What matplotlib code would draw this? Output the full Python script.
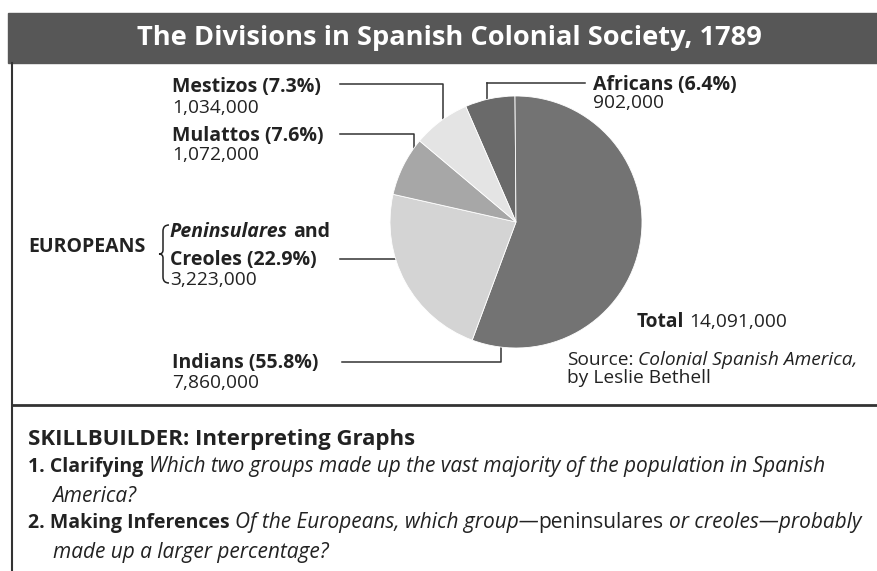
import numpy as np
import matplotlib.pyplot as plt
from matplotlib.path import Path
from matplotlib.patches import PathPatch, Rectangle

# data
groups = ['Africans', 'Indians', 'Creoles', 'Mulattos', 'Mestizos']
population = [902000, 7860000, 3223000, 1072000, 1034000]
percent = [6.4, 55.8, 22.9, 7.6, 7.3]
total = 14091000
colors = ['#6a6a6a', '#737373', '#d4d4d4', '#a7a7a7', '#e4e4e4']

plt.rcParams['font.family'] = ['Open Sans', 'DejaVu Sans']
TXT = '#222222'
LINE = '#333333'

W, H = 878, 571
fig = plt.figure(figsize=(W / 100, H / 100), dpi=100)
ov = fig.add_axes([0, 0, 1, 1])
ov.set_xlim(0, W)
ov.set_ylim(H, 0)
ov.axis('off')
renderer = fig.canvas.get_renderer()

# frame, title bar, separator
ov.add_patch(Rectangle((8, 13), W - 8, 50, color='#575757', zorder=1))
ov.plot([12, 12], [63, H], color=LINE, lw=1.5)
ov.plot([12, W], [405, 405], color=LINE, lw=2)
ov.text(449, 45, 'The Divisions in Spanish Colonial Society, 1789', color='white',
        fontsize=19.6, fontweight='bold', ha='center', va='baseline', zorder=2)

# pie
cx, cy, R = 516, 222, 126
pax = fig.add_axes([(cx - R) / W, (H - cy - R) / H, 2 * R / W, 2 * R / H])
wedges, _ = pax.pie(population, colors=colors, startangle=113.5, counterclock=False,
                    wedgeprops=dict(edgecolor='white', linewidth=0.6))
pax.set_xlim(-1, 1)
pax.set_ylim(-1, 1)


def seq_text(x, y, parts, size):
    # draw text pieces one after another on the same baseline
    for s, weight, style, *sz in parts:
        fs = sz[0] if sz else size
        lead = len(s) - len(s.lstrip(' '))
        if lead:
            probe = ov.text(0, 0, 'a a', fontsize=fs, fontweight=weight, fontstyle=style)
            probe2 = ov.text(0, 0, 'aa', fontsize=fs, fontweight=weight, fontstyle=style)
            sp = probe.get_window_extent(renderer).width - probe2.get_window_extent(renderer).width
            probe.remove()
            probe2.remove()
            x += sp * lead
        t = ov.text(x, y, s.strip(' '), fontsize=fs, fontweight=weight, fontstyle=style,
                    color=TXT, va='baseline', ha='left')
        x += t.get_window_extent(renderer).width
    return x


def anchor(angle, rf):
    a = np.deg2rad(angle)
    return cx + rf * R * np.cos(a), cy - rf * R * np.sin(a)


def leader(x0, y0, angle, rf):
    ax_, ay_ = anchor(angle, rf)
    ov.plot([x0, ax_, ax_], [y0, y0, ay_], color=LINE, lw=1.1, zorder=3)
    ov.plot([ax_], [ay_], marker='o', ms=4.5, mfc='white', mec=LINE, mew=1.1, zorder=4)


LS = 14     # label size
NS = 13.8   # number size

def fmt(v):
    return f'{v:,}'

# Mestizos
seq_text(172, 92, [(f'{groups[4]} ({percent[4]}%)', 'bold', 'normal')], LS)
seq_text(172, 113, [(fmt(population[4]), 'normal', 'normal')], NS)
leader(340, 84, 127.5, 0.95)

# Mulattos
seq_text(172, 141, [(f'{groups[3]} ({percent[3]}%)', 'bold', 'normal')], LS)
seq_text(172, 160, [(fmt(population[3]), 'normal', 'normal')], NS)
leader(340, 134, 150.4, 0.93)

# Europeans
seq_text(28, 252, [('EUROPEANS', 'bold', 'normal')], LS)
seq_text(170, 237, [('Peninsulares', 'bold', 'italic'), (' and', 'bold', 'normal')], LS)
seq_text(170, 265, [(f'{groups[2]} ({percent[2]}%)', 'bold', 'normal')], LS)
seq_text(170, 285, [(fmt(population[2]), 'normal', 'normal')], NS)
ay = anchor(198.7, 0.91)[1]
leader(340, ay, 198.7, 0.91)
brace = Path([(169, 225), (163, 225), (163, 231), (163, 250), (163, 254), (159, 254),
              (163, 254), (163, 258), (163, 277), (163, 283), (169, 283)],
             [Path.MOVETO, Path.CURVE3, Path.CURVE3, Path.LINETO, Path.CURVE3, Path.CURVE3,
              Path.CURVE3, Path.CURVE3, Path.LINETO, Path.CURVE3, Path.CURVE3])
ov.add_patch(PathPatch(brace, fill=False, edgecolor=TXT, lw=1.1))

# Indians
seq_text(172, 368, [(f'{groups[1]} ({percent[1]}%)', 'bold', 'normal')], LS)
seq_text(172, 388, [(fmt(population[1]), 'normal', 'normal')], NS)
leader(342, 362, 262.8, 0.94)

# Africans
seq_text(593, 90, [(f'{groups[0]} ({percent[0]}%)', 'bold', 'normal')], LS)
seq_text(593, 108, [(fmt(population[0]), 'normal', 'normal')], NS)
ax0, _ = anchor(104, 0.96)
ov.plot([585, ax0], [83, 83], color=LINE, lw=1.1)
leader(ax0, 83, 104, 0.96)

# total and source
seq_text(637, 327, [('Total', 'bold', 'normal'), (f' {fmt(total)}', 'normal', 'normal')], NS)
seq_text(567, 365, [('Source:', 'normal', 'normal'),
                    (' Colonial Spanish America,', 'normal', 'italic')], NS)
seq_text(567, 383, [('by Leslie Bethell', 'normal', 'normal')], NS)

# skillbuilder
SS = 14
IS = 15
seq_text(28, 445, [('SKILLBUILDER: Interpreting Graphs', 'bold', 'normal')], 16)
seq_text(28, 472, [('1. Clarifying', 'bold', 'normal'),
                   (' Which two groups made up the vast majority of the population in Spanish',
                    'normal', 'italic', IS)], SS)
seq_text(52, 502, [('America?', 'normal', 'italic')], IS)
seq_text(28, 528, [('2. Making Inferences', 'bold', 'normal'),
                   (' Of the Europeans, which group\u2014', 'normal', 'italic', IS),
                   ('peninsulares', 'normal', 'normal', IS),
                   (' or creoles\u2014probably', 'normal', 'italic', IS)], SS)
seq_text(53, 558, [('made up a larger percentage?', 'normal', 'italic')], IS)

fig.savefig('out.png', dpi=100)
